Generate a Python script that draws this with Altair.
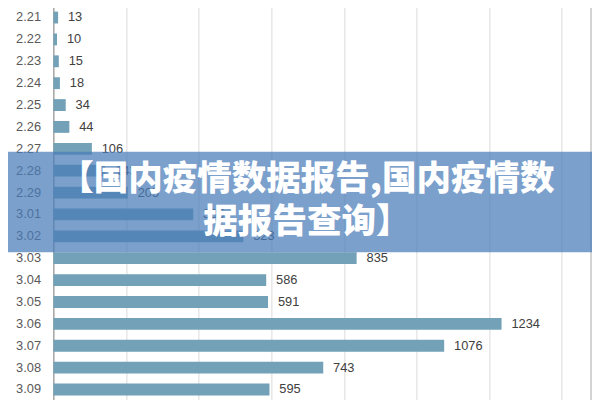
import altair as alt
import pandas as pd

dates = ["2.21", "2.22", "2.23", "2.24", "2.25", "2.26", "2.27", "2.28", "2.29",
         "3.01", "3.02", "3.03", "3.04", "3.05", "3.06", "3.07", "3.08", "3.09"]
values = [13, 10, 15, 18, 34, 44, 106, 143, 205,
          385, 523, 835, 586, 591, 1234, 1076, 743, 595]
banner_lines = ["【国内疫情数据报告,国内疫情数", "据报告查询】"]
grid_ticks = [0, 200, 400, 600, 800, 1000, 1200, 1400]

df = pd.DataFrame({"date": dates, "value": values})

W, H = 546, 392
xscale = alt.Scale(domain=[0, 1483], nice=False, zero=True)
yscale = alt.Scale(domain=dates, range=[-4.1, 395.1], paddingInner=0.48, paddingOuter=0.24)

x_enc = alt.X("value:Q", scale=xscale,
              axis=alt.Axis(values=grid_ticks, labels=False, ticks=False, domain=False,
                            title=None, grid=True, gridColor="#d9d9d9", gridWidth=1))
y_enc = alt.Y("date:N", sort=None, scale=yscale,
              axis=alt.Axis(title=None, ticks=False, labelPadding=13, labelFontSize=13,
                            labelColor="#595959", labelFont="Liberation Sans",
                            domainColor="#868686", domainWidth=1, grid=False))

bars = alt.Chart(df).mark_bar(color="#73A2B8", size=12).encode(x=x_enc, y=y_enc)

labels = alt.Chart(df).mark_text(align="left", baseline="middle", dx=10, fontSize=13,
                                 font="Liberation Sans", color="#404040").encode(
    x=alt.X("value:Q", scale=xscale), y=alt.Y("date:N", sort=None, scale=yscale),
    text="value:Q")

border = alt.Chart(pd.DataFrame({"a": [0]})).mark_rule(color="#a6a6a6", strokeWidth=1).encode(
    x=alt.value(545), y=alt.value(-10), y2=alt.value(400))

banner = alt.Chart(pd.DataFrame({"a": [0]})).mark_rect(color="#487BB8", opacity=0.72).encode(
    x=alt.value(-46), x2=alt.value(546), y=alt.value(143), y2=alt.value(245))

line1 = alt.Chart(pd.DataFrame({"t": [banner_lines[0]]})).mark_text(
    align="center", baseline="middle", fontSize=35, fontWeight=900,
    font="Noto Sans CJK SC", color="white").encode(
    x=alt.value(257), y=alt.value(171), text="t:N")
line2 = alt.Chart(pd.DataFrame({"t": [banner_lines[1]]})).mark_text(
    align="center", baseline="middle", fontSize=35, fontWeight=900,
    font="Noto Sans CJK SC", color="white").encode(
    x=alt.value(257), y=alt.value(214), text="t:N")

chart = alt.layer(bars, labels, border, banner, line1, line2).properties(
    width=W, height=H,
    autosize=alt.AutoSizeParams(type="none"),
    padding={"left": 46, "top": 0, "right": 0, "bottom": 0},
    background="white",
).configure_view(stroke=None)

chart.save("out.html", embed_options={"renderer": "svg", "actions": False})
